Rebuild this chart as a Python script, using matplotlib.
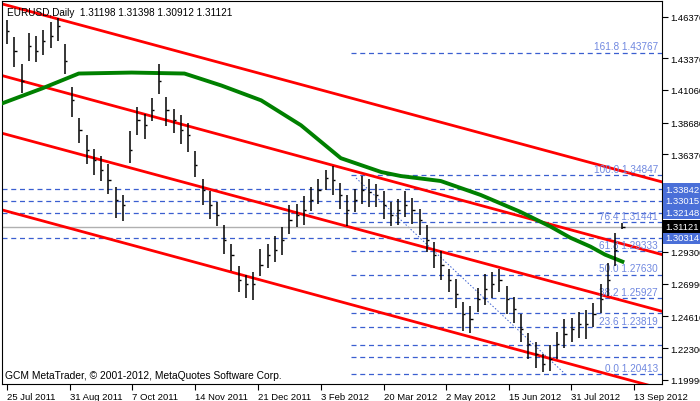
import matplotlib.pyplot as plt
import numpy as np

plt.rcParams["font.family"] = "Liberation Sans"

# closes sampled along the chart (bar groups), with up/down extensions
close = [1.4536, 1.4391, 1.4174, 1.4427, 1.4391, 1.4463, 1.4500, 1.4572, 1.4319, 1.4030,
         1.3813, 1.3668, 1.3596, 1.3524, 1.3451, 1.3307, 1.3271, 1.3668, 1.3885, 1.3849,
         1.3957, 1.4174, 1.3957, 1.3885, 1.3813, 1.3777, 1.3560, 1.3379, 1.3271, 1.3198,
         1.3017, 1.2909, 1.2728, 1.2692, 1.2692, 1.2837, 1.2909, 1.2945, 1.3017, 1.3162,
         1.3198, 1.3234, 1.3307, 1.3379, 1.3466, 1.3451, 1.3343, 1.3234, 1.3307, 1.3379,
         1.3365, 1.3343, 1.3271, 1.3198, 1.3234, 1.3271, 1.3234, 1.3162, 1.3017, 1.2909,
         1.2837, 1.2728, 1.2620, 1.2475, 1.2439, 1.2584, 1.2656, 1.2692, 1.2728, 1.2584,
         1.2511, 1.2367, 1.2258, 1.2186, 1.2114, 1.2150, 1.2258, 1.2331, 1.2367, 1.2403,
         1.2403, 1.2475, 1.2584, 1.2728, 1.2945, 1.3112]
up = [0.008, 0.010, 0.012, 0.009, 0.011, 0.008, 0.010, 0.006, 0.012, 0.010,
      0.009, 0.011, 0.008, 0.010, 0.012, 0.009, 0.007, 0.014, 0.010, 0.008,
      0.009, 0.012, 0.010, 0.008, 0.011, 0.009, 0.010, 0.008, 0.010, 0.009,
      0.011, 0.008, 0.010, 0.007, 0.009, 0.011, 0.008, 0.010, 0.009, 0.011,
      0.008, 0.010, 0.009, 0.008, 0.006, 0.010, 0.009, 0.011, 0.008, 0.010,
      0.009, 0.008, 0.010, 0.009, 0.008, 0.010, 0.009, 0.008, 0.011, 0.009,
      0.010, 0.008, 0.011, 0.009, 0.010, 0.008, 0.011, 0.009, 0.008, 0.010,
      0.009, 0.011, 0.008, 0.009, 0.007, 0.010, 0.009, 0.011, 0.008, 0.009,
      0.010, 0.008, 0.011, 0.012, 0.012, 0.003]
dn = [0.010, 0.012, 0.009, 0.011, 0.008, 0.010, 0.009, 0.011, 0.010, 0.012,
      0.009, 0.010, 0.011, 0.008, 0.010, 0.013, 0.012, 0.009, 0.011, 0.010,
      0.008, 0.010, 0.011, 0.009, 0.010, 0.012, 0.009, 0.011, 0.010, 0.008,
      0.010, 0.012, 0.009, 0.010, 0.011, 0.008, 0.010, 0.009, 0.011, 0.010,
      0.009, 0.011, 0.008, 0.010, 0.009, 0.011, 0.010, 0.012, 0.009, 0.010,
      0.011, 0.009, 0.010, 0.008, 0.011, 0.009, 0.010, 0.011, 0.009, 0.010,
      0.011, 0.009, 0.010, 0.012, 0.010, 0.009, 0.011, 0.010, 0.009, 0.011,
      0.010, 0.009, 0.011, 0.010, 0.006, 0.009, 0.011, 0.010, 0.009, 0.010,
      0.011, 0.009, 0.010, 0.012, 0.012, 0.002]

ma_x = [-0.69, 4.8, 9.9, 17.2, 24.5, 29.6, 35.1, 40.6, 46.1, 51.7, 54.4, 59.9, 65.4, 70.9,
        75.1, 77.8, 80.6, 82.6, 85]
ma_y = [1.4008, 1.4116, 1.4225, 1.4232, 1.4225, 1.4138, 1.4030, 1.3849, 1.3610, 1.3509,
        1.3480, 1.3444, 1.3343, 1.3220, 1.3112, 1.3032, 1.2967, 1.2909, 1.2858]

# channel lines: price at left and right edge
channels = [(1.4731, 1.3437), (1.4210, 1.2909), (1.3791, 1.2497), (1.3234, 1.1933)]

fib_levels = ["0.0", "23.6", "38.2", "50.0", "61.8", "76.4", "100.0", "161.8"]
fib_prices = [1.20413, 1.23819, 1.25927, 1.27630, 1.29333, 1.31441, 1.34847, 1.43767]
extra_short = [1.2482, 1.2251, 1.2167]
full_lines = [1.33842, 1.33015, 1.32148, 1.30314]
last_price = 1.31121

yticks = [1.46370, 1.43370, 1.41060, 1.38680, 1.36370, 1.29300, 1.26990, 1.24610, 1.22300, 1.19990]
date_pos = [0, 8.7, 17.2, 25.9, 34.6, 43.4, 52.1, 60.6, 69.3, 77.9, 86.6]
date_lab = ["25 Jul 2011", "31 Aug 2011", "7 Oct 2011", "14 Nov 2011", "21 Dec 2011",
            "3 Feb 2012", "20 Mar 2012", "2 May 2012", "15 Jun 2012", "31 Jul 2012", "13 Sep 2012"]

fs = 6.8
fig = plt.figure(figsize=(7, 4.02), dpi=100)
ax = fig.add_axes([0.003, 0.042, 0.943, 0.953])
xl = (-0.69, 90.5)
ax.set_xlim(*xl)
ax.set_ylim(1.1968, 1.4752)

blue = "#3a5fd0"
lblue = "#7088e0"
x0 = 47.5
for p in full_lines:
    ax.axhline(p, color=blue, ls=(0, (4, 3)), lw=0.9, zorder=1)
for p in extra_short:
    ax.plot([x0, xl[1]], [p, p], color=blue, ls=(0, (4, 3)), lw=0.9, zorder=1)
for lev, p in zip(fib_levels, fib_prices):
    ax.plot([x0, xl[1]], [p, p], color=blue, ls=(0, (4, 3)), lw=0.9, zorder=1)
    ax.text(xl[1] - 0.6, p + 0.0010, f"{lev} {p:.5f}", color=lblue, fontsize=fs + 0.4, ha="right", va="bottom")
ax.plot([48.2, 77.1], [1.3466, 1.2041], color=blue, ls=(0, (1.5, 2)), lw=0.7, zorder=1)
ax.axhline(last_price, color="#b0b0b0", lw=1, zorder=1)

for a, b in channels:
    ax.plot(xl, [a, b], color="#ff0000", lw=2, zorder=2)
ax.plot(ma_x, ma_y, color="#008000", lw=2.8, zorder=3)

c = np.array(close)
hi = c + np.array(up)
lo = c - np.array(dn)
xs = np.arange(len(c))
ax.vlines(xs, lo, hi, color="black", lw=1.1, zorder=4)
ax.hlines(c, xs, xs + 0.3, color="black", lw=1, zorder=4)

ax.yaxis.tick_right()
ax.set_yticks(yticks)
ax.set_yticklabels([f"{t:.5f}" for t in yticks], fontsize=fs)
ax.tick_params(axis="y", length=4, pad=2)
ax.set_xticks(date_pos)
ax.set_xticklabels(date_lab, fontsize=fs, ha="left")
ax.tick_params(axis="x", length=4, pad=2)
for s in ax.spines.values():
    s.set_color("black")

for p in full_lines:
    ax.text(1.004, p, f"{p:.5f}", transform=ax.get_yaxis_transform(), fontsize=fs,
            color="white", va="center", ha="left",
            bbox=dict(boxstyle="square,pad=0.2", fc="#4a6fd8", ec="none"))
ax.text(1.004, last_price, f"{last_price:.5f}", transform=ax.get_yaxis_transform(), fontsize=fs,
        color="white", va="center", ha="left",
        bbox=dict(boxstyle="square,pad=0.2", fc="black", ec="none"))

ax.text(0.008, 0.985, "EURUSD,Daily  1.31198 1.31398 1.30912 1.31121", transform=ax.transAxes,
        fontsize=fs + 0.4, va="top", ha="left")
ax.text(0.005, 0.01, "GCM MetaTrader, © 2001-2012, MetaQuotes Software Corp.", transform=ax.transAxes,
        fontsize=fs + 0.6, va="bottom", ha="left")

fig.savefig("out.png", dpi=100)
